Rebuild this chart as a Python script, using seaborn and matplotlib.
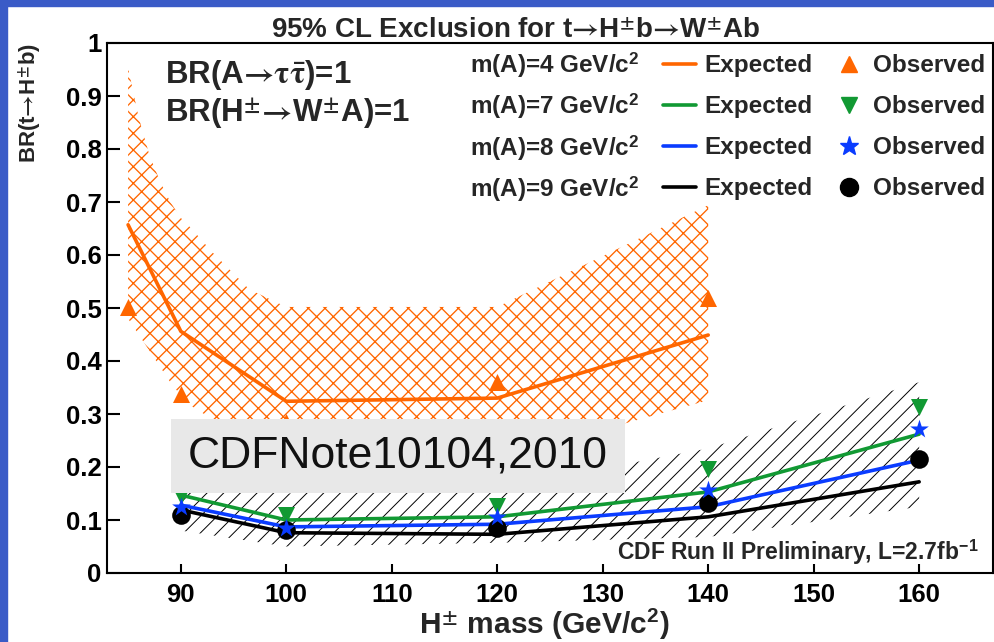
import matplotlib

matplotlib.use("Agg")
import matplotlib.pyplot as plt
from matplotlib.lines import Line2D
from matplotlib.patches import Rectangle
from matplotlib.ticker import FormatStrFormatter
import seaborn as sns

sns.set_theme(style="ticks")
plt.rcParams["font.family"] = ["Liberation Sans", "DejaVu Sans"]
plt.rcParams["font.weight"] = "bold"
plt.rcParams["mathtext.fontset"] = "custom"
plt.rcParams["mathtext.rm"] = "STIXGeneral"
plt.rcParams["mathtext.it"] = "STIXGeneral:italic"
plt.rcParams["mathtext.bf"] = "Liberation Sans:bold"
plt.rcParams["hatch.linewidth"] = 0.95
plt.rcParams["axes.linewidth"] = 1.5

# --- data --------------------------------------------------------------
mA_labels = [r"m(A)=4 GeV/c$^{\mathbf{2}}$", r"m(A)=7 GeV/c$^{\mathbf{2}}$",
             r"m(A)=8 GeV/c$^{\mathbf{2}}$", r"m(A)=9 GeV/c$^{\mathbf{2}}$"]
colors = ["#ff6600", "#119933", "#0a3cff", "#000000"]
markers = ["^", "v", "*", "o"]
marker_area = [150, 150, 200, 180]

mass_4 = [85, 90, 100, 120, 140]
exp_4 = [0.657, 0.456, 0.324, 0.330, 0.449]
obs_4 = [0.502, 0.337, 0.285, 0.361, 0.519]

mass = [90, 100, 120, 140, 160]
exp_7 = [0.147, 0.100, 0.106, 0.153, 0.262]
obs_7 = [0.145, 0.109, 0.126, 0.197, 0.314]
exp_8 = [0.128, 0.087, 0.092, 0.125, 0.213]
obs_8 = [0.125, 0.085, 0.105, 0.157, 0.272]
exp_9 = [0.119, 0.076, 0.073, 0.106, 0.172]
obs_9 = [0.109, 0.081, 0.085, 0.132, 0.216]

# +-1 sigma bands of the expected limit
band4_x = [85, 86, 87, 88, 89, 90, 91, 93, 96.5, 100, 120, 140]
band4_hi = [0.953, 0.86, 0.79, 0.74, 0.70, 0.67, 0.65, 0.605, 0.535, 0.502, 0.502, 0.694]
band4_lo = [0.48, 0.45, 0.42, 0.39, 0.36, 0.335, 0.315, 0.29, 0.27, 0.25, 0.215, 0.326]
band9_x = [90, 100, 120, 140, 160]
band9_hi = [0.17, 0.15, 0.16, 0.235, 0.36]
band9_lo = [0.08, 0.05, 0.057, 0.068, 0.125]

xticks = [90, 100, 110, 120, 130, 140, 150, 160]
yticks = [0, 0.1, 0.2, 0.3, 0.4, 0.5, 0.6, 0.7, 0.8, 0.9, 1]

series = [
    (mass_4, exp_4, obs_4),
    (mass, exp_7, obs_7),
    (mass, exp_8, obs_8),
    (mass, exp_9, obs_9),
]
order = [0, 1, 3, 2]  # draw blue stars above black dots

ARROW = "$→$"

fig = plt.figure(figsize=(9.95, 6.42), dpi=100)
ax = fig.add_axes([107 / 995, 69 / 642, 886 / 995, 530 / 642])

with plt.rc_context({"hatch.linewidth": 0.7}):
    ax.fill_between(band9_x, band9_lo, band9_hi, facecolor="none",
                    edgecolor="black", hatch="//", lw=0, zorder=1)
ax.fill_between(band4_x, band4_lo, band4_hi, facecolor="none",
                edgecolor=colors[0], hatch="xx", lw=0, zorder=1)

for i in order:
    x, e, o = series[i]
    sns.lineplot(x=x, y=e, color=colors[i], lw=2.6, sort=False,
                 estimator=None, ax=ax, zorder=2)
for i in order:
    x, e, o = series[i]
    sns.scatterplot(x=x, y=o, color=colors[i], marker=markers[i],
                    s=marker_area[i], linewidth=0, ax=ax, zorder=3)

ax.set_xlim(83, 167)
ax.set_ylim(0, 1)
ax.set_xticks(xticks)
ax.set_yticks(yticks)
ax.yaxis.set_major_formatter(FormatStrFormatter("%g"))
ax.tick_params(axis="both", direction="in", width=1.5, labelsize=18.5,
               colors="black")
ax.tick_params(axis="y", length=9.5, pad=4)
ax.tick_params(axis="x", length=6.5, pad=7)
for sp in ax.spines.values():
    sp.set_visible(True)
    sp.set_color("black")
    sp.set_linewidth(1.5)

ax.set_xlabel(r"H$^{\pm}$ mass (GeV/c$^{\mathbf{2}}$)", fontsize=21.5,
              fontweight="bold")
ax.xaxis.set_label_coords(0.494, -0.064)
ax.xaxis.label.set_va("top")
ax.set_ylabel(r"BR(t" + ARROW + r"H$^{\pm}$b)", fontsize=16,
              fontweight="bold", loc="top")
ax.yaxis.set_label_coords(-0.072, 1.0)

fig.text(516 / 995, (642 - 38) / 642,
         "95% CL Exclusion for t" + ARROW + r"H$^{\pm}$b" + ARROW + r"W$^{\pm}$Ab",
         ha="center", va="baseline", fontsize=20, fontweight="bold")

ax.text(0.0655, 0.9245, "BR(A" + ARROW + r"$\mathrm{\tau}\bar{\mathrm{\tau}}$)=1",
        transform=ax.transAxes, fontsize=22.5, fontweight="bold", va="baseline")
ax.text(0.0655, 0.851, r"BR(H$^{\pm}$" + ARROW + r"W$^{\pm}$A)=1",
        transform=ax.transAxes, fontsize=22.5, fontweight="bold", va="baseline")
ax.text(0.984, 0.0245, r"CDF Run II Preliminary, L=2.7fb$^{\mathbf{-1}}$",
        transform=ax.transAxes, fontsize=16.5, fontweight="bold",
        ha="right", va="baseline")

# legend: three aligned columns (mass label | expected line | observed marker)
leg_kw = dict(loc="upper left", frameon=False, fontsize=17.5, borderpad=0,
              borderaxespad=0)
blank = [Line2D([], [], lw=0) for _ in mA_labels]
line_h = [Line2D([], [], color=c, lw=2.6) for c in colors]
mark_h = [Line2D([], [], color=c, marker=m, lw=0, markersize=s)
          for c, m, s in zip(colors, markers, [12, 12, 14, 13])]
leg1 = ax.legend(blank, mA_labels, bbox_to_anchor=(0.4097, 0.9865),
                 handlelength=0, handletextpad=0, labelspacing=0.47, **leg_kw)
ax.add_artist(leg1)
leg2 = ax.legend(line_h, ["Expected"] * 4, bbox_to_anchor=(0.6275, 0.979),
                 handlelength=1.36, handletextpad=0.33, labelspacing=0.74,
                 **leg_kw)
ax.add_artist(leg2)
ax.legend(mark_h, ["Observed"] * 4, bbox_to_anchor=(0.8238, 0.979),
          handlelength=1.0, handletextpad=0.49, numpoints=1,
          labelspacing=0.74, **leg_kw)

fig.text(188 / 995, (642 - 456) / 642, "CDFNote10104,2010", fontsize=32,
         fontweight="normal", color="#111111", ha="left", va="center",
         bbox=dict(boxstyle="square,pad=0.38", facecolor="#e8e8e8",
                   edgecolor="none"), zorder=10)

# blue frame strips of the original slide
fig.patches.append(Rectangle((0, 1 - 6 / 642), 1, 6 / 642,
                             transform=fig.transFigure, color="#3a5bc7"))
fig.patches.append(Rectangle((0, 0), 7 / 995, 1,
                             transform=fig.transFigure, color="#3a5bc7"))

fig.savefig("out.png", dpi=100)
